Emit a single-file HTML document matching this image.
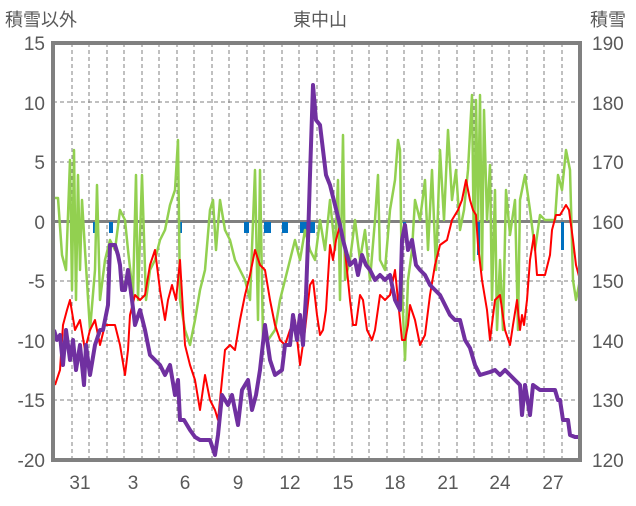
<!DOCTYPE html><html><head><meta charset="utf-8"><style>
body{margin:0;background:#fff}
text{font-family:"Liberation Sans","Noto Sans CJK JP",sans-serif;fill:#595959}
</style></head><body>
<svg width="636" height="501" viewBox="0 0 636 501" xmlns="http://www.w3.org/2000/svg">
<text x="5" y="26" font-size="18">積雪以外</text>
<text x="320" y="26" font-size="18" text-anchor="middle">東中山</text>
<text x="590" y="26" font-size="18">積雪</text>
<g font-size="19" text-anchor="end">
<text x="45" y="50">15</text><text x="45" y="110">10</text><text x="45" y="169">5</text><text x="45" y="229">0</text><text x="45" y="288">-5</text><text x="45" y="348">-10</text><text x="45" y="407">-15</text><text x="45" y="467">-20</text></g>
<g font-size="19">
<text x="592" y="50">190</text><text x="592" y="110">180</text><text x="592" y="169">170</text><text x="592" y="229">160</text><text x="592" y="288">150</text><text x="592" y="348">140</text><text x="592" y="407">130</text><text x="592" y="467">120</text></g>
<g font-size="19" text-anchor="middle">
<text x="80" y="489">31</text><text x="133" y="489">3</text><text x="185" y="489">6</text><text x="238" y="489">9</text><text x="290" y="489">12</text><text x="343" y="489">15</text><text x="395" y="489">18</text><text x="448" y="489">21</text><text x="500" y="489">24</text><text x="553" y="489">27</text></g>
<g stroke="#808080" stroke-width="1" stroke-dasharray="4,3">
<line x1="53" x2="580" y1="102" y2="102"/><line x1="53" x2="580" y1="162" y2="162"/><line x1="53" x2="580" y1="281" y2="281"/><line x1="53" x2="580" y1="341" y2="341"/><line x1="53" x2="580" y1="400" y2="400"/>
<line x1="72" x2="72" y1="43" y2="460"/><line x1="89" x2="89" y1="43" y2="460"/><line x1="107" x2="107" y1="43" y2="460"/><line x1="124" x2="124" y1="43" y2="460"/><line x1="142" x2="142" y1="43" y2="460"/><line x1="159" x2="159" y1="43" y2="460"/><line x1="177" x2="177" y1="43" y2="460"/><line x1="194" x2="194" y1="43" y2="460"/><line x1="212" x2="212" y1="43" y2="460"/><line x1="229" x2="229" y1="43" y2="460"/><line x1="247" x2="247" y1="43" y2="460"/><line x1="264" x2="264" y1="43" y2="460"/><line x1="282" x2="282" y1="43" y2="460"/><line x1="299" x2="299" y1="43" y2="460"/><line x1="317" x2="317" y1="43" y2="460"/><line x1="334" x2="334" y1="43" y2="460"/><line x1="352" x2="352" y1="43" y2="460"/><line x1="369" x2="369" y1="43" y2="460"/><line x1="387" x2="387" y1="43" y2="460"/><line x1="404" x2="404" y1="43" y2="460"/><line x1="422" x2="422" y1="43" y2="460"/><line x1="439" x2="439" y1="43" y2="460"/><line x1="457" x2="457" y1="43" y2="460"/><line x1="474" x2="474" y1="43" y2="460"/><line x1="492" x2="492" y1="43" y2="460"/><line x1="509" x2="509" y1="43" y2="460"/><line x1="527" x2="527" y1="43" y2="460"/><line x1="544" x2="544" y1="43" y2="460"/><line x1="562" x2="562" y1="43" y2="460"/>
</g>
<line x1="53" x2="580" y1="221.5" y2="221.5" stroke="#808080" stroke-width="3"/>
<g fill="#0070C0">
<rect x="93" y="222" width="3" height="11"/><rect x="109" y="222" width="4" height="11"/><rect x="180" y="222" width="2" height="11"/><rect x="244" y="222" width="5" height="11"/><rect x="264" y="222" width="7" height="11"/><rect x="282" y="222" width="6" height="11"/><rect x="300" y="222" width="15" height="11"/><rect x="307" y="222" width="3" height="20"/><rect x="403" y="222" width="3" height="11"/><rect x="477" y="222" width="3" height="33"/><rect x="561" y="222" width="3" height="28"/></g>
<polyline fill="none" stroke="#92D050" stroke-width="2.5" stroke-linejoin="round" points="55,198 58,198 62,255 66,270 70,160 72,290 74,150 76,300 78,175 80,270 82,200 85,250 90,330 95,270 97,185 100,300 105,260 110,240 115,250 120,210 125,220 128,250 133,295 136,175 138,300 142,175 146,300 150,270 155,260 160,240 165,230 170,205 175,190 178,140 180,300 185,330 190,345 195,320 200,290 205,270 210,210 213,200 216,250 220,200 225,230 230,240 235,260 240,270 245,280 250,300 255,170 258,320 260,170 263,340 268,340 275,330 280,300 285,280 290,260 295,240 300,260 305,230 310,250 315,260 320,220 325,250 330,200 335,250 338,180 340,300 343,135 345,280 350,260 355,220 360,260 365,230 370,280 375,220 378,175 380,260 385,270 390,210 395,180 398,140 400,150 402,290 405,360 408,280 412,250 415,200 420,220 425,180 428,250 432,170 436,270 440,150 444,220 448,130 452,200 456,170 460,230 464,210 468,170 472,95 474,260 476,100 478,220 480,95 482,270 484,110 487,220 490,165 492,300 495,190 497,330 500,260 503,330 506,190 510,235 515,200 518,330 520,200 525,175 530,210 535,250 540,215 545,220 550,220 555,220 558,175 562,190 566,150 570,170 573,280 576,300 580,280"/>
<polyline fill="none" stroke="#FF0000" stroke-width="2" stroke-linejoin="round" points="55,385 60,370 63,325 67,310 70,300 75,330 80,320 85,350 90,330 95,320 100,345 105,325 110,325 115,325 120,345 125,375 128,350 130,315 135,295 140,300 145,295 150,265 155,250 160,290 165,320 168,300 172,285 176,300 180,260 185,345 190,365 195,380 200,410 205,375 210,400 215,410 218,420 222,380 225,350 230,345 235,350 240,320 245,295 250,275 255,250 260,265 265,270 270,300 275,325 280,340 285,345 290,330 295,320 300,365 305,330 310,285 313,280 317,315 320,335 323,330 326,310 330,245 333,260 336,240 340,225 345,250 350,300 353,325 356,325 360,295 363,300 367,330 372,340 375,330 380,295 385,300 390,295 395,270 402,340 405,340 408,325 410,305 415,320 420,345 425,335 430,295 435,265 440,245 447,240 452,220 458,210 462,200 466,180 470,200 473,210 476,215 478,245 482,280 487,310 490,340 495,300 500,295 505,330 510,345 513,325 517,300 520,330 522,315 524,325 527,300 530,260 534,235 537,275 545,275 550,255 552,230 556,215 560,215 563,210 566,205 569,210 573,240 576,265 580,280"/>
<polyline fill="none" stroke="#7030A0" stroke-width="4" stroke-linejoin="round" points="54,330 57,340 60,335 63,365 66,330 70,360 73,340 76,370 80,345 84,385 86,345 90,375 95,345 100,330 103,330 108,305 110,245 115,245 118,255 120,265 122,290 125,290 128,270 132,300 135,325 140,310 145,330 150,355 155,360 160,365 165,375 170,365 175,395 178,380 180,420 184,420 190,430 195,437 200,440 205,440 210,440 215,455 218,435 222,395 228,405 232,395 238,425 242,390 248,380 252,410 256,395 260,370 265,325 270,360 275,375 282,370 285,345 290,345 293,315 297,340 300,315 303,345 306,295 308,240 310,175 313,85 316,120 320,125 323,150 326,175 330,185 335,205 340,225 343,240 347,255 350,265 355,260 358,275 362,255 366,265 370,270 375,280 380,275 385,280 390,275 395,300 400,310 402,240 405,225 408,250 412,240 416,265 420,270 425,275 430,285 435,290 440,295 445,305 450,315 455,320 460,320 465,340 470,348 475,365 480,375 490,372 495,370 500,375 505,370 510,375 515,380 520,385 522,415 525,385 530,415 533,385 540,390 555,390 558,400 560,400 563,420 568,420 570,435 575,437 580,437"/>
<rect x="53" y="43" width="527" height="417" fill="none" stroke="#808080" stroke-width="4"/>
</svg>
</body></html>
